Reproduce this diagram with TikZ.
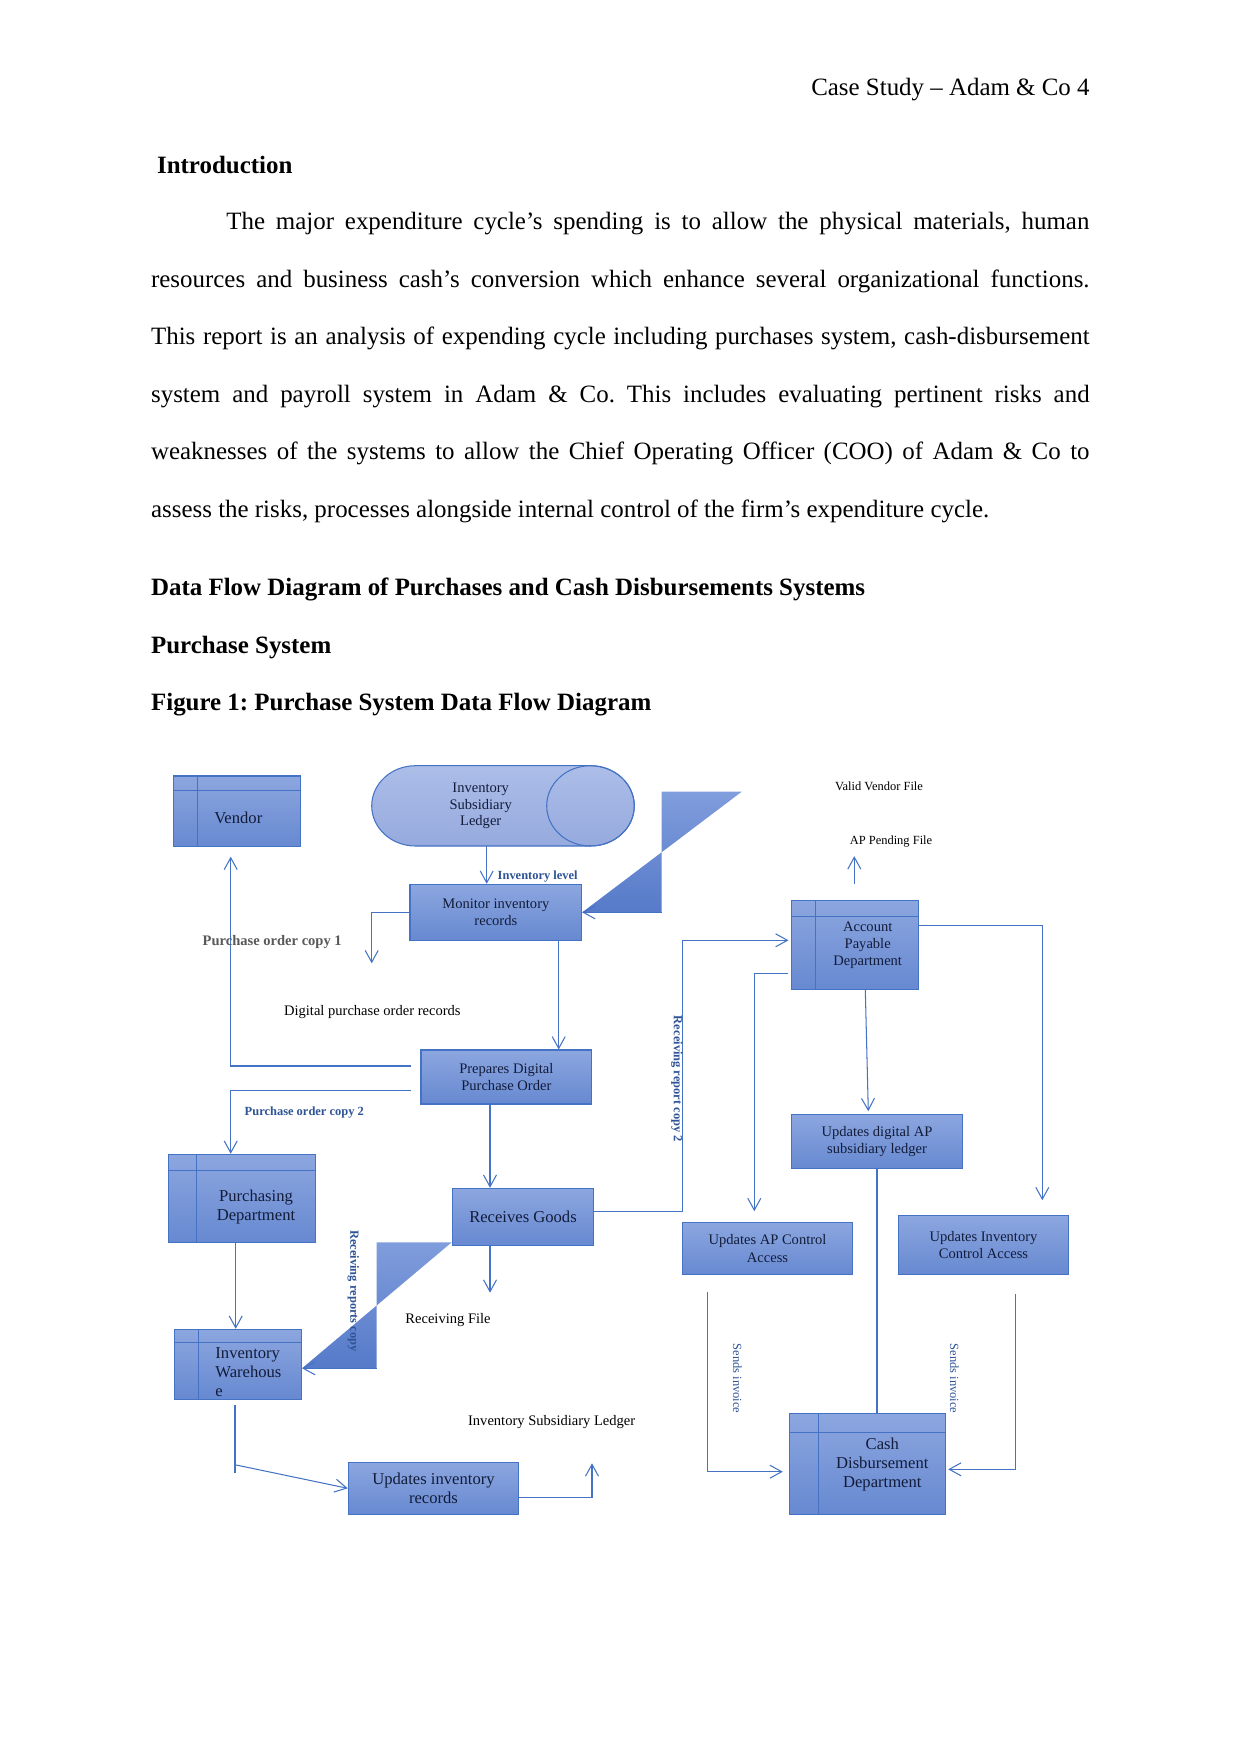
\documentclass[tikz,border=0pt]{standalone}
\usepackage{fontspec}
\setmainfont{Liberation Serif}
\usepackage{xcolor}
\usepackage{tikz}
\usetikzlibrary{
  arrows.meta,
  positioning,
  calc
}

\newdimen\pxl
\pxl=0.16922mm

\definecolor{dfdedge}{RGB}{68,114,196}
\definecolor{boxtop}{RGB}{140,166,223}
\definecolor{boxbot}{RGB}{103,137,209}
\definecolor{ledgertop}{RGB}{172,189,232}
\definecolor{ledgerbot}{RGB}{150,170,222}
\definecolor{wedgetop}{RGB}{128,157,220}
\definecolor{wedgebot}{RGB}{86,122,201}
\definecolor{boxtext}{RGB}{18,28,58}
\definecolor{tagblue}{RGB}{47,84,150}
\definecolor{taggray}{RGB}{89,89,89}

\tikzset{
  bodytxt/.style={anchor=base west, inner sep=0pt, font=\fontsize{12}{14}\selectfont},
  dfdbox/.style={draw=dfdedge, line width=0.5pt, top color=boxtop, bottom color=boxbot,
    inner sep=0pt, text=boxtext, align=center, font=\fontsize{7}{8.3}\selectfont},
  bigtxt/.style={font=\fontsize{8}{9.1}\selectfont},
  enttxt/.style={inner sep=0pt, text=boxtext, align=center, font=\fontsize{8}{9.1}\selectfont},
  flow/.style={draw=dfdedge, line width=0.5pt, -{Straight Barb[length=2mm,width=2.2mm]}},
  link/.style={draw=dfdedge, line width=0.5pt},
  lbl/.style={inner sep=0pt, anchor=west, font=\fontsize{7}{8.4}\selectfont},
  tag/.style={inner sep=0pt, text=tagblue, font=\bfseries\fontsize{6}{7}\selectfont}
}

\frenchspacing
\begin{document}
\begin{tikzpicture}[x=0.16922mm, y=-0.16922mm]
  \useasboundingbox[fill=white] (0,0) rectangle (1241,1754);

  % page text
  \node[bodytxt, anchor=base east] (hdr) at (1090,96) {Case Study – Adam \& Co 4};
  \node[bodytxt] (intro) at (156.7,173.3) {\bfseries Introduction};
  \node[bodytxt] (par1) at (226,230)
    {\makebox[863\pxl][s]{The major expenditure cycle’s spending is to allow the physical materials, human}};
  \foreach \i/\y/\txt in {
    2/287.7/{resources and business cash’s conversion which enhance several organizational functions.},
    3/344.7/{This report is an analysis of expending cycle including purchases system, cash-disbursement},
    4/402.7/{system and payroll system in Adam \& Co. This includes evaluating pertinent risks and},
    5/460/{weaknesses of the systems to allow the Chief Operating Officer (COO) of Adam \& Co to}}
  {
    \node[bodytxt] (par\i) at (150.7,\y) {\makebox[938.5\pxl][s]{\txt}};
  }
  \node[bodytxt] (par6) at (150.7,517.7)
    {assess the risks, processes alongside internal control of the firm’s expenditure cycle.};
  \node[bodytxt] (head1) at (150.7,595.7) {\bfseries Data Flow Diagram of Purchases and Cash Disbursements Systems};
  \node[bodytxt] (head2) at (150.7,653.3) {\bfseries Purchase System};
  \node[bodytxt] (head3) at (150.7,710) {\bfseries Figure 1: Purchase System Data Flow Diagram};

  % ledger cylinder
  \draw[dfdedge, line width=0.5pt, top color=ledgertop, bottom color=ledgerbot]
    (415.5,765.7) -- (590.5,765.7)
    arc[start angle=90, end angle=-90, x radius=43.8\pxl, y radius=40.15\pxl]
    -- (415.5,846)
    arc[start angle=270, end angle=90, x radius=43.8\pxl, y radius=40.15\pxl] -- cycle;
  \draw[dfdedge, line width=0.5pt] (590.5,805.85) ellipse[x radius=43.8\pxl, y radius=40.15\pxl];
  \node[enttxt, font=\fontsize{7}{7.9}\selectfont] (isl) at (480.7,806) {Inventory\\Subsidiary\\Ledger};

  % wedge shapes
  \shade[top color=wedgetop, bottom color=wedgebot]
    (661.7,791.7) -- (741.7,791.7) -- (581.7,912.7) -- (661.7,912.7) -- cycle;
  \shade[top color=wedgetop, bottom color=wedgebot]
    (376.5,1242.3) -- (451.7,1242.3) -- (302,1368.3) -- (376.5,1368.3) -- cycle;

  % external entities
  \node[dfdbox, minimum width=127.4\pxl, minimum height=70.7\pxl] (ven) at (237,811.35) {};
  \node[dfdbox, minimum width=147.4\pxl, minimum height=88\pxl] (pur) at (242,1198.3) {};
  \node[dfdbox, minimum width=127.4\pxl, minimum height=70\pxl] (whs) at (238,1364.3) {};
  \node[dfdbox, minimum width=126.6\pxl, minimum height=89\pxl] (apd) at (855,944.8) {};
  \node[dfdbox, minimum width=156.4\pxl, minimum height=101\pxl] (cdd) at (867.5,1463.8) {};
  \foreach \n/\h/\d in {ven/14.7/25, pur/17/29, whs/13.4/25, apd/17/24.6, cdd/20/30}{
    \draw[link] ([yshift=-\h\pxl]\n.north west) -- ([yshift=-\h\pxl]\n.north east);
    \draw[link] ([xshift=\d\pxl]\n.north west) -- ([xshift=\d\pxl]\n.south west);
  }
  \node[enttxt] (ventxt) at (238.3,818.3) {Vendor};
  \node[enttxt] (purtxt) at (256,1207) {Purchasing\\Department};
  \node[enttxt, anchor=west, align=left, font=\fontsize{8}{9.2}\selectfont] (whstxt) at (215,1371.8) {Inventory\\Warehous\\e};
  \node[enttxt, font=\fontsize{7}{8.2}\selectfont] (apdtxt) at (867.7,945.3) {Account\\Payable\\Department};
  \node[enttxt, font=\fontsize{8}{9}\selectfont] (cddtxt) at (882.3,1464.3) {Cash\\Disbursement\\Department};

  % processes
  \node[dfdbox, minimum width=171.7\pxl, minimum height=56\pxl] (mon) at (495.85,912.3) {Monitor inventory\\records};
  \node[dfdbox, minimum width=170.7\pxl, minimum height=54\pxl] (pdo) at (506.35,1077) {Prepares Digital\\Purchase Order};
  \node[dfdbox, bigtxt, minimum width=141.4\pxl, minimum height=57\pxl] (rcv) at (523,1216.8) {Receives Goods};
  \node[dfdbox, minimum width=171.4\pxl, minimum height=54\pxl] (uap) at (877,1141.3) {Updates digital AP\\subsidiary ledger};
  \node[dfdbox, minimum width=170.4\pxl, minimum height=52.4\pxl] (uac) at (767.5,1248.5) {Updates AP Control\\Access};
  \node[dfdbox, minimum width=170.4\pxl, minimum height=59.4\pxl] (uic) at (983.5,1245) {Updates Inventory\\Control Access};
  \node[dfdbox, font=\fontsize{8}{8.8}\selectfont, minimum width=170.4\pxl, minimum height=52\pxl] (uir) at (433.5,1488.3) {Updates inventory\\records};

  % free ends
  \coordinate (islb) at (486.7,846);
  \coordinate (porec) at (371.7,963.3);
  \coordinate (po1) at (230.7,856.7);
  \coordinate (rfile) at (490,1292.7);
  \coordinate (rr) at (682.3,940.3);
  \coordinate (isl2) at (592,1463.3);
  \coordinate (w1) at (661.7,912.3);
  \coordinate (w2) at (376.5,1368.3);

  % flows
  \draw[flow] (islb) -- (islb |- mon.north);
  \draw[flow] (w1) -- (w1 -| mon.east);
  \draw[flow] (mon.west) -| (porec);
  \draw[flow] ([xshift=62.85\pxl]mon.south) -- ([xshift=62.85\pxl]mon.south |- pdo.north);
  \draw[flow] ([xshift=-9.3\pxl,yshift=11\pxl]pdo.west) -| (po1);
  \draw[flow] ([xshift=-9.3\pxl,yshift=-13.3\pxl]pdo.west) -| ([xshift=-11.3\pxl]pur.north);
  \draw[flow] ([xshift=-16.35\pxl]pdo.south) -- ([xshift=-16.35\pxl]pdo.south |- rcv.north);
  \draw[flow] ([xshift=-6.3\pxl]pur.south) -- ([xshift=-6.3\pxl]pur.south |- whs.north);
  \draw[flow] (rcv.south -| rfile) -- (rfile);
  \draw[flow] (w2) -- (w2 -| whs.east);
  \draw[flow] ([yshift=5.1\pxl]rcv.east) -| (rr) -- ([xshift=-2.7\pxl]apd.west |- rr);
  \draw[flow] ([xshift=-0.7\pxl,yshift=16\pxl]apd.north) -- ++(0,27.6\pxl);
  \draw[flow] ([xshift=-2.7\pxl,yshift=-28.5\pxl]apd.west) -| ([xshift=-13.2\pxl,yshift=10.6\pxl]uac.north);
  \draw[flow] ([yshift=19.5\pxl]apd.east) -| ([xshift=58.8\pxl,yshift=14.6\pxl]uic.north);
  \draw[flow] ([xshift=10.3\pxl]apd.south) -- ([xshift=-8.7\pxl,yshift=2.6\pxl]uap.north);
  \draw[link] (uap.south) -- (uap.south |- cdd.north);
  \draw[flow] ([xshift=-60.2\pxl,yshift=-16.3\pxl]uac.south) |- ([xshift=-6\pxl,yshift=-7.9\pxl]cdd.west);
  \draw[flow] ([xshift=31.8\pxl,yshift=-18.6\pxl]uic.south) |- ([xshift=2\pxl,yshift=-5.5\pxl]cdd.east);
  \draw[link, line width=1pt] ([xshift=-2.7\pxl,yshift=-5\pxl]whs.south) -- ([xshift=-2.7\pxl,yshift=-73\pxl]whs.south);
  \draw[flow] ([xshift=-2.7\pxl,yshift=-65\pxl]whs.south) -- (uir.west);
  \draw[flow] ([yshift=-9\pxl]uir.east) -| (isl2);

  % flow labels
  \node[tag, anchor=west] (tlvl) at (497.3,877) {Inventory level};
  \node[lbl, font=\fontsize{6}{7}\selectfont, anchor=center] (vvf) at (879,786.7) {Valid Vendor File};
  \node[lbl, font=\fontsize{6}{7}\selectfont, anchor=center] (apf) at (891,841.7) {AP Pending File};
  \node[lbl, text=taggray, font=\bfseries\fontsize{7}{8}\selectfont] (tpo1) at (202.3,942.3) {Purchase order copy 1};
  \node[lbl] (dpor) at (283.7,1011.7) {Digital purchase order records};
  \node[tag, anchor=west] (tpo2) at (244.3,1112.7) {Purchase order copy 2};
  \node[tag, rotate=-90] (trr2) at (676.7,1079) {Receiving report copy 2};
  \node[tag, rotate=-90] (trrc) at (353.3,1291) {Receiving reports copy};
  \node[lbl] (rfl) at (405,1320) {Receiving File};
  \node[lbl] (isll) at (467.7,1421.7) {Inventory Subsidiary Ledger};
  \node[tag, rotate=-90, font=\fontsize{6}{7}\selectfont] (tsi1) at (737.3,1378.7) {Sends invoice};
  \node[tag, rotate=-90, font=\fontsize{6}{7}\selectfont] (tsi2) at (954.3,1378.7) {Sends invoice};
\end{tikzpicture}
\end{document}
